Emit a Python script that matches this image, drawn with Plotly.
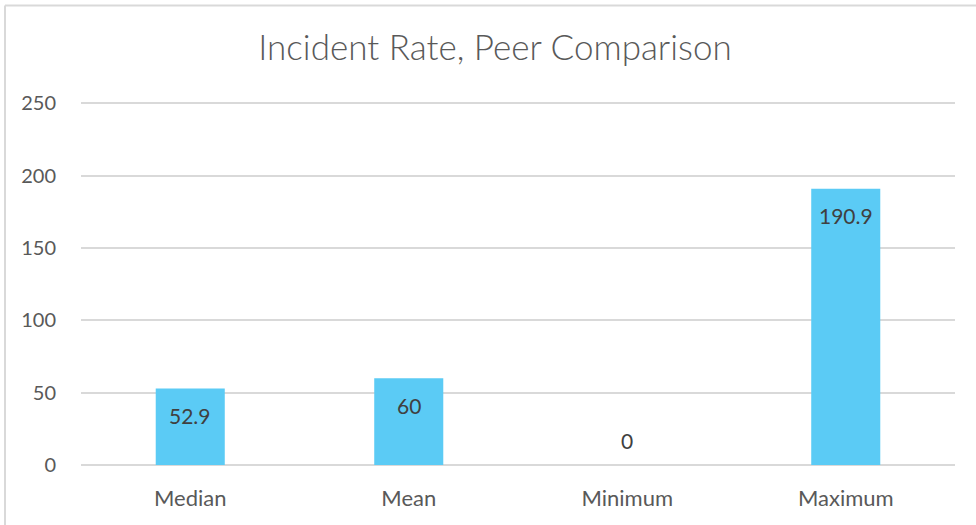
import plotly.graph_objects as go

categories = ["Median", "Mean", "Minimum", "Maximum"]
values = [52.9, 60, 0, 190.9]
labels = ["52.9", "60", "0", "190.9"]
y_ticks = [0, 50, 100, 150, 200, 250]
y_max = 253

W, H = 976, 525
ml, mr, mb = 81, 21, 60
px_per_unit = (465 - 103) / 250
ph = y_max * px_per_unit
mt = H - mb - ph
pw = W - ml - mr

FONT = "Lato"
fig = go.Figure()
fig.add_trace(go.Bar(
    x=categories, y=values, width=0.316,
    marker=dict(color="#5BCBF5", line=dict(width=0)),
    hoverinfo="skip",
))

for c, v, t in zip(categories, values, labels):
    fig.add_annotation(
        x=c, y=v, text=t, showarrow=False,
        yanchor="middle", yshift=-27 if v > 0 else 25,
        font=dict(family=FONT, size=21, color="#404040"),
    )

# chart border (top and left edges visible)
def px_x(p):
    return (p - ml) / pw

def px_y(p):
    return (H - mb - p) / ph

border = dict(color="#d9d9d9", width=2)
fig.add_shape(type="line", xref="paper", yref="paper",
              x0=px_x(5), x1=px_x(W + 5), y0=px_y(5), y1=px_y(5), line=border, layer="below")
fig.add_shape(type="line", xref="paper", yref="paper",
              x0=px_x(5), x1=px_x(5), y0=px_y(5), y1=px_y(H + 5), line=border, layer="below")

fig.update_layout(
    width=W, height=H,
    margin=dict(l=ml, r=mr, t=mt, b=mb, pad=0, autoexpand=False),
    paper_bgcolor="white", plot_bgcolor="white",
    title=dict(text="Incident Rate, Peer Comparison", x=495 / W, xanchor="center",
               xref="container",
               y=1 - 48 / H, yanchor="middle",
               font=dict(family=FONT, size=35, weight=300, color="#595959")),
    xaxis=dict(showgrid=False, showline=False, ticks="", automargin=False,
               ticklabelstandoff=18,
               tickfont=dict(family=FONT, size=22, color="#595959")),
    yaxis=dict(range=[0, y_max], tickvals=y_ticks, showgrid=True,
               gridcolor="#d9d9d9", gridwidth=1.5, zeroline=True,
               zerolinecolor="#d9d9d9", zerolinewidth=1.5, showline=False,
               ticks="", ticklabelstandoff=24, automargin=False,
               tickfont=dict(family=FONT, size=20, color="#595959")),
    showlegend=False,
)

fig.write_html("out.html", config={"displayModeBar": False},
               post_script="document.body.style.margin='0';")
